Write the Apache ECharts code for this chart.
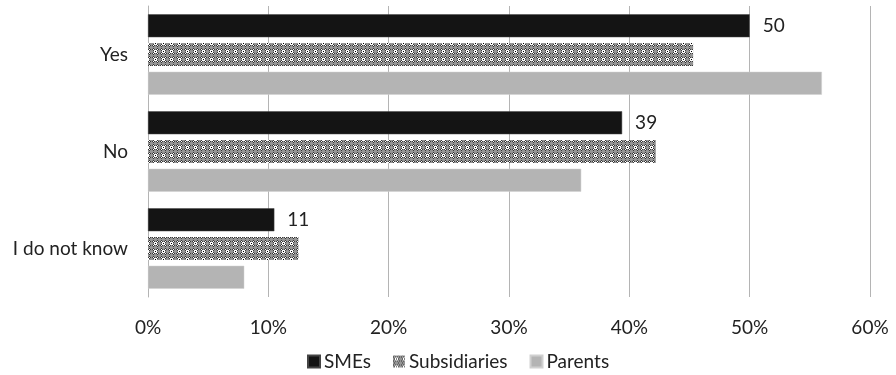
<!DOCTYPE html>
<html>
<head>
<meta charset="utf-8">
<script src="https://cdn.jsdelivr.net/npm/echarts@6/dist/echarts.min.js"></script>
<style>
html,body{margin:0;padding:0;background:#fff;}
#c{width:896px;height:375px;}
</style>
</head>
<body>
<div id="c"></div>
<script>
const categories = ['Yes', 'No', 'I do not know'];
const smes = [50, 39.4, 10.5];
const subsidiaries = [45.3, 42.2, 12.5];
const parents = [56, 36, 8];
const xTicks = [0, 10, 20, 30, 40, 50, 60];

function makePattern() {
  const tile = [
    '.#...#..',
    '#w#.#w#.',
    '.#www#..',
    '..wkw...',
    '.#www#..',
    '#w#.#w#.',
    '.#...#..',
    '........'
  ];
  const colors = {'.': '#959595', '#': '#383838', 'w': '#ffffff', 'k': '#000000'};
  const cv = document.createElement('canvas');
  cv.width = 8; cv.height = 8;
  const ctx = cv.getContext('2d');
  for (let y = 0; y < 8; y++) {
    for (let x = 0; x < 8; x++) {
      ctx.fillStyle = colors[tile[y][x]];
      ctx.fillRect(x, y, 1, 1);
    }
  }
  return {image: cv, repeat: 'repeat'};
}

const FONT = 'Lato';
const FS = 19;
const chart = echarts.init(document.getElementById('c'), null, {renderer: 'canvas'});
chart.setOption({
  animation: false,
  textStyle: {fontFamily: FONT},
  grid: {left: 148, right: 26, top: 6, bottom: 78, containLabel: false},
  legend: {
    top: 352,
    left: 307,
    padding: 0,
    itemWidth: 12,
    itemHeight: 12,
    itemGap: 22,
    icon: 'rect',
    textStyle: {fontFamily: FONT, fontSize: FS, color: '#222', padding: [0, 0, 0, -1]},
    data: ['SMEs', 'Subsidiaries', 'Parents']
  },
  xAxis: {
    type: 'value',
    min: xTicks[0],
    max: xTicks[xTicks.length - 1],
    interval: 10,
    axisLine: {show: false},
    axisTick: {show: false},
    splitLine: {show: true, lineStyle: {color: '#b4b4b4', width: 1}},
    axisLabel: {formatter: v => v + '%', fontFamily: FONT, fontSize: FS, color: '#222', margin: 21}
  },
  yAxis: {
    type: 'category',
    data: categories,
    inverse: true,
    axisLine: {show: true, lineStyle: {color: '#b4b4b4'}},
    axisTick: {show: false},
    axisLabel: {fontFamily: FONT, fontSize: FS, color: '#222', margin: 20}
  },
  series: [
    {
      name: 'SMEs', type: 'bar', data: smes, barWidth: 23, barGap: '25%',
      itemStyle: {color: '#141414', borderColor: '#444', borderWidth: 0.5},
      label: {show: true, position: 'right', distance: 13, formatter: p => Math.round(p.value),
        fontFamily: FONT, fontSize: FS, color: '#222'}
    },
    {
      name: 'Subsidiaries', type: 'bar', data: subsidiaries, barWidth: 23, barGap: '25%',
      itemStyle: {color: makePattern()}
    },
    {
      name: 'Parents', type: 'bar', data: parents, barWidth: 23, barGap: '25%',
      itemStyle: {color: '#b4b4b4', borderColor: '#d0d0d0', borderWidth: 0.5}
    }
  ]
});
</script>
</body>
</html>
